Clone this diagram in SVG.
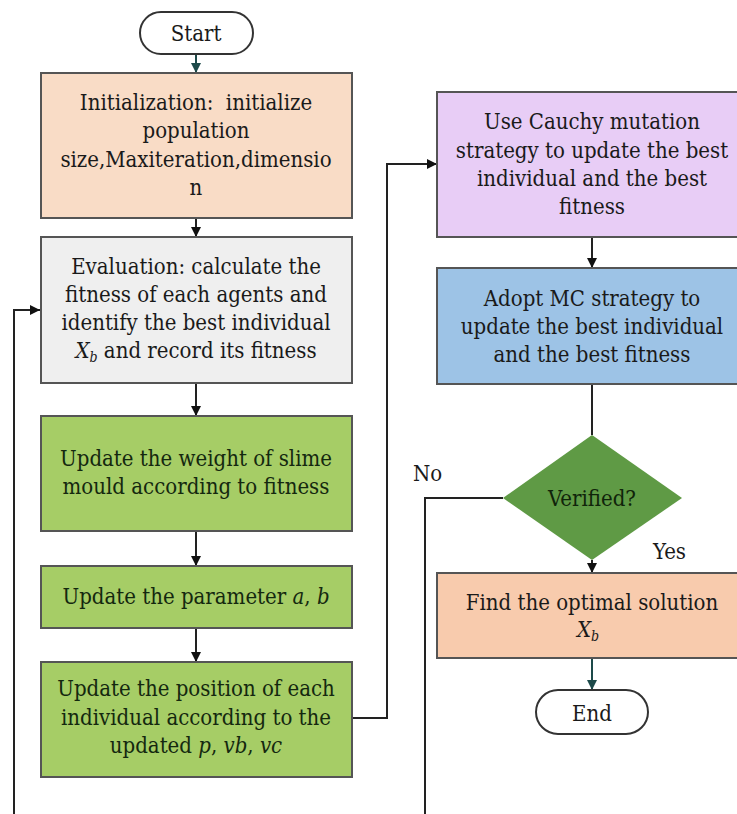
<svg xmlns="http://www.w3.org/2000/svg" width="737" height="814" viewBox="0 0 737 814">
<defs>
<marker id="ah" viewBox="0 0 10 10" refX="10" refY="5" markerWidth="10" markerHeight="10" markerUnits="userSpaceOnUse" orient="auto"><path d="M0,0 L10,5 L0,10 z" fill="#111"/></marker>
<marker id="aht" viewBox="0 0 10 10" refX="10" refY="5" markerWidth="10" markerHeight="10" markerUnits="userSpaceOnUse" orient="auto"><path d="M0,0 L10,5 L0,10 z" fill="#1d4a4a"/></marker>
<style>
text{font-family:"DejaVu Serif Condensed","DejaVu Serif","Liberation Serif",serif;font-stretch:condensed;font-size:22px;fill:#1a1a1a;text-anchor:middle;white-space:pre}
.g text{fill:#14280f}
.box{stroke:#555;stroke-width:2}
.ln{fill:none;stroke:#222;stroke-width:2}
.lt{fill:none;stroke:#1d4a4a;stroke-width:2}
.i{font-style:italic}
.sub{font-size:14px;font-style:italic}
.lbl{text-anchor:start}
</style>
</defs>
<rect width="737" height="814" fill="#fff"/>
<g id="connectors">
<path class="lt" d="M196,54 V73" marker-end="url(#aht)"/>
<path class="ln" d="M196,218 V237" marker-end="url(#ah)"/>
<path class="ln" d="M196,383 V416" marker-end="url(#ah)"/>
<path class="ln" d="M196,531 V566" marker-end="url(#ah)"/>
<path class="ln" d="M196,628 V662" marker-end="url(#ah)"/>
<path class="ln" d="M352,718 H387 V164 H437" marker-end="url(#ah)"/>
<path class="ln" d="M592,237 V268" marker-end="url(#ah)"/>
<path class="ln" d="M592,384 V435"/>
<path class="ln" d="M592,560 V573" marker-end="url(#ah)"/>
<path class="lt" d="M592,658 V690" marker-end="url(#aht)"/>
<path class="ln" d="M503,498 H425 V814"/>
<path class="ln" d="M14,814 V310 H40" marker-end="url(#ah)"/>
</g>
<g id="start">
<rect x="140" y="12" width="113" height="42" rx="21" fill="#fff" stroke="#333" stroke-width="2"/>
<text x="196" y="41">Start</text>
</g>
<g id="init">
<rect class="box" x="41" y="73" width="311" height="145" fill="#f9dcc6"/>
<text x="196" y="110">Initialization:  initialize</text>
<text x="196" y="138">population</text>
<text x="196" y="167">size,Maxiteration,dimensio</text>
<text x="196" y="195">n</text>
</g>
<g id="eval">
<rect class="box" x="41" y="237" width="311" height="146" fill="#efefef"/>
<text x="196" y="274">Evaluation: calculate the</text>
<text x="196" y="302">fitness of each agents and</text>
<text x="196" y="330">identify the best individual</text>
<text x="196" y="358"><tspan class="i">X</tspan><tspan class="sub" dy="4">b</tspan><tspan dy="-4"> and record its fitness</tspan></text>
</g>
<g id="weight" class="g">
<rect class="box" x="41" y="416" width="311" height="115" fill="#a6cd66"/>
<text x="196" y="466">Update the weight of slime</text>
<text x="196" y="494">mould according to fitness</text>
</g>
<g id="param" class="g">
<rect class="box" x="41" y="566" width="311" height="62" fill="#a6cd66"/>
<text x="196" y="604">Update the parameter <tspan class="i">a</tspan>, <tspan class="i">b</tspan></text>
</g>
<g id="position" class="g">
<rect class="box" x="41" y="662" width="311" height="115" fill="#a6cd66"/>
<text x="196" y="696">Update the position of each</text>
<text x="196" y="725">individual according to the</text>
<text x="196" y="753">updated <tspan class="i">p</tspan>, <tspan class="i">vb</tspan>, <tspan class="i">vc</tspan></text>
</g>
<g id="cauchy">
<rect class="box" x="437" y="92" width="312" height="145" fill="#e8cdf6"/>
<text x="592" y="129">Use Cauchy mutation</text>
<text x="592" y="158">strategy to update the best</text>
<text x="592" y="186">individual and the best</text>
<text x="592" y="214">fitness</text>
</g>
<g id="mc">
<rect class="box" x="437" y="268" width="312" height="116" fill="#9dc3e6"/>
<text x="592" y="306">Adopt MC strategy to</text>
<text x="592" y="334">update the best individual</text>
<text x="592" y="362">and the best fitness</text>
</g>
<g id="verify">
<polygon points="592,435 682,498 592,560 503,498" fill="#5f9a45"/>
<text x="592" y="506" style="fill:#10240a">Verified?</text>
</g>
<g id="labels">
<text class="lbl" x="413" y="481">No</text>
<text class="lbl" x="653" y="559">Yes</text>
</g>
<g id="find">
<rect class="box" x="437" y="573" width="312" height="85" fill="#f8cbad"/>
<text x="592" y="610">Find the optimal solution</text>
<text x="588" y="637"><tspan class="i">X</tspan><tspan class="sub" dy="4">b</tspan></text>
</g>
<g id="end">
<rect x="536" y="690" width="112" height="44" rx="22" fill="#fff" stroke="#333" stroke-width="2"/>
<text x="592" y="721">End</text>
</g>
</svg>
